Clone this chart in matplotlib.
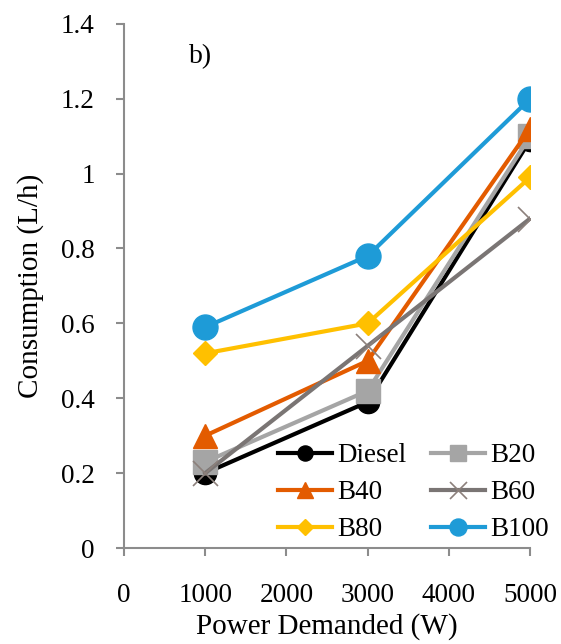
import matplotlib
matplotlib.use("Agg")
import matplotlib.pyplot as plt

plt.rcParams['font.family'] = ['Liberation Serif', 'DejaVu Serif']

power = [1000, 3000, 5000]
diesel = [0.20, 0.39, 1.09]
b20 = [0.23, 0.42, 1.10]
b40 = [0.30, 0.50, 1.12]
b60 = [0.20, 0.54, 0.88]
b80 = [0.52, 0.60, 0.99]
b100 = [0.59, 0.78, 1.20]

labels = ['Diesel', 'B20', 'B40', 'B60', 'B80', 'B100']
series = [diesel, b20, b40, b60, b80, b100]
colors = ['#000000', '#A5A5A5', '#E35B00', '#7A7574', '#FFC000', '#1E9BD7']
markers = ['o', 's', '^', 'x', 'D', 'o']
msizes = [16, 17, 17, 18, 12.5, 18]

fig = plt.figure(figsize=(5.61, 6.44), dpi=100)
ax = fig.add_axes([0.221, 0.149, 0.724, 0.814])

handles = []
for lab, ys, c, m, ms in zip(labels, series, colors, markers, msizes):
    if m == 'x':
        h, = ax.plot(power, ys, color=c, lw=3, marker='x', ms=ms, mec='#8C807B',
                     mew=1.2, label=lab)
    else:
        h, = ax.plot(power, ys, color=c, lw=3, marker=m, ms=ms, mec=c, label=lab)
    handles.append(h)

ax.set_xlim(0, 5000)
ax.set_ylim(0, 1.4)
ax.set_xticks(range(0, 5001, 1000))
ax.set_yticks([0, 0.2, 0.4, 0.6, 0.8, 1.0, 1.2, 1.4])
ax.set_yticklabels(['0', '0.2', '0.4', '0.6', '0.8', '1', '1.2', '1.4'])

for s in ['top', 'right']:
    ax.spines[s].set_visible(False)
for s in ['left', 'bottom']:
    ax.spines[s].set_color('#8C8C8C')
    ax.spines[s].set_linewidth(1.5)
ax.tick_params(axis='both', colors='#8C8C8C', labelcolor='black', length=6,
               width=1.5, labelsize=19.5)
ax.tick_params(axis='x', pad=19)
ax.tick_params(axis='y', pad=15)

ax.set_xlabel('Power Demanded (W)', fontsize=21, labelpad=4)
ax.set_ylabel('Consumption (L/h)', fontsize=21, labelpad=12)

ax.text(0.16, 0.925, 'b)', transform=ax.transAxes, fontsize=20)

# legend fills column by column, reference reads row by row
order = [0, 2, 4, 1, 3, 5]
ax.legend([handles[i] for i in order], [labels[i] for i in order],
          loc='upper left', bbox_to_anchor=(278 / 561, 1 - 443 / 644),
          bbox_transform=fig.transFigure, ncol=2, frameon=False,
          fontsize=19.5, markerscale=0.68, handlelength=2.0,
          columnspacing=0.9, handletextpad=0.2, labelspacing=0.45,
          borderpad=0, borderaxespad=0)

fig.savefig('out.png', dpi=100)
